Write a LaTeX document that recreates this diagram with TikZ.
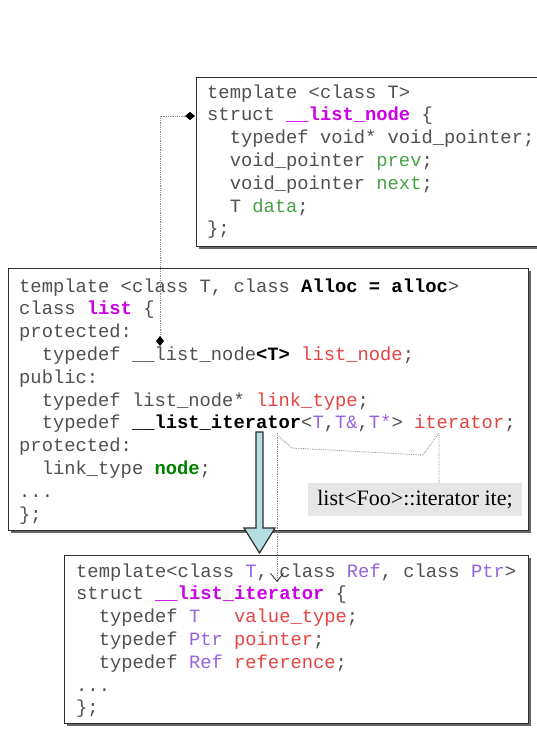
\documentclass[tikz,border=0pt]{standalone}
\usepackage{fontspec}
\setmonofont{Liberation Mono}
\newfontfamily\calloutFont{Liberation Serif}
\usetikzlibrary{arrows.meta,shadows}
\definecolor{codeGray}{RGB}{80,80,80}
\definecolor{keyMagenta}{RGB}{204,0,230}
\definecolor{memberGreen}{RGB}{70,160,70}
\definecolor{nodeGreen}{RGB}{0,128,0}
\definecolor{typeRed}{RGB}{228,68,68}
\definecolor{paramPurple}{RGB}{150,100,225}
\definecolor{frameGray}{RGB}{45,45,45}
\definecolor{arrowCyan}{RGB}{180,222,226}
\definecolor{calloutGray}{RGB}{230,230,230}
\definecolor{dotGray}{RGB}{140,140,140}
\newcommand{\codeFont}{\fontsize{18.8}{22.8}\selectfont\ttfamily}
\newcommand{\magentaName}[1]{\textbf{\textcolor{keyMagenta}{#1}}}
\newcommand{\boldName}[1]{\textbf{\textcolor{black}{#1}}}
\newcommand{\redName}[1]{\textcolor{typeRed}{#1}}
\newcommand{\purpleParam}[1]{\textcolor{paramPurple}{#1}}
\newcommand{\greenMember}[1]{\textcolor{memberGreen}{#1}}
\tikzstyle{codeFrame} = [draw=frameGray, line width=1.4pt, fill=white, inner sep=0pt, anchor=north west, general shadow={shadow xshift=2.5pt, shadow yshift=-2.5pt, fill=black!60}]
\tikzstyle{codeText} = [anchor=north west, inner sep=0pt, align=left, text=codeGray, font=\codeFont]
\tikzstyle{pointerLine} = [draw=dotGray, densely dotted, line width=0.8pt]
\tikzstyle{calloutBox} = [fill=calloutGray, minimum width=214pt, minimum height=33pt, inner sep=0pt, font=\calloutFont\fontsize{22}{26}\selectfont]
\tikzstyle{bigArrow} = [fill=arrowCyan, draw=frameGray, line width=1.2pt, line join=miter]

\begin{document}
\begin{tikzpicture}[x=1pt, y=-1pt]
  \useasboundingbox (0,0) rectangle (536,730);
  % struct __list_node
  \node[codeFrame, minimum width=360pt, minimum height=169pt] (nodeFrame) at (196,77) {};
  \node[codeText] (nodeCode) at (207,82) {\strut template <class T>\\
struct \magentaName{\_\_list\_node} \{\\
\ \ typedef void* void\_pointer;\\
\ \ void\_pointer \greenMember{prev};\\
\ \ void\_pointer \greenMember{next};\\
\ \ T \greenMember{data};\\
\};};
  % class list
  \node[codeFrame, minimum width=520pt, minimum height=262pt] (listFrame) at (8,268) {};
  \node[codeText] (listCode) at (19,276) {\strut template <class T, class \boldName{Alloc = alloc}>\\
class \magentaName{list} \{\\
protected:\\
\ \ typedef \_\_list\_node\boldName{<T>} \redName{list\_node};\\
public:\\
\ \ typedef list\_node* \redName{link\_type};\\
\ \ typedef \boldName{\_\_list\_iterator}<\purpleParam{T},\purpleParam{T\&},\purpleParam{T*}> \redName{iterator};\\
protected:\\
\ \ link\_type \textbf{\textcolor{nodeGreen}{node}};\\
...\\
\};};
  \node[calloutBox] (itCallout) at (415,499.5) {list<Foo>::iterator ite;};
  % struct __list_iterator
  \node[codeFrame, minimum width=464pt, minimum height=168pt] (iterFrame) at (64,555) {};
  \node[codeText] (iterCode) at (76,561) {\strut template<class \purpleParam{T}, class \purpleParam{Ref}, class \purpleParam{Ptr}>\\
struct \magentaName{\_\_list\_iterator} \{\\
\ \ typedef \purpleParam{T}\ \ \ \redName{value\_type};\\
\ \ typedef \purpleParam{Ptr} \redName{pointer};\\
\ \ typedef \purpleParam{Ref} \redName{reference};\\
...\\
\};};
  % connectors
  \coordinate (listNodeRef) at (160,346);
  \coordinate (nodeAnchor) at (195,116);
  \draw[pointerLine, {Diamond[length=10pt, width=8pt, color=black]}-{Diamond[length=10pt, width=8pt, color=black]}] (listNodeRef) |- (nodeAnchor);
  \coordinate (bracketLeft) at (277,435);
  \coordinate (bracketRight) at (439,433);
  \draw[pointerLine] (itCallout.north -| bracketRight) -- (bracketRight) -- ++(-16,22) -- ++(-131,-7) -- (bracketLeft);
  \coordinate (arrowTop) at (259.5,432);
  \filldraw[bigArrow] (arrowTop) ++(-3.5,0) -- ++(7,0) -- ++(0,96) -- ++(12,0) -- ++(-15.5,25) -- ++(-15.5,-25) -- ++(12,0) -- cycle;
  \coordinate (iterRef) at (277,433);
  \coordinate (iterTarget) at (277,582);
  \draw[pointerLine, -{Straight Barb[length=8pt, width=13pt, color=frameGray]}] (iterRef) -- (iterTarget);
\end{tikzpicture}
\end{document}
